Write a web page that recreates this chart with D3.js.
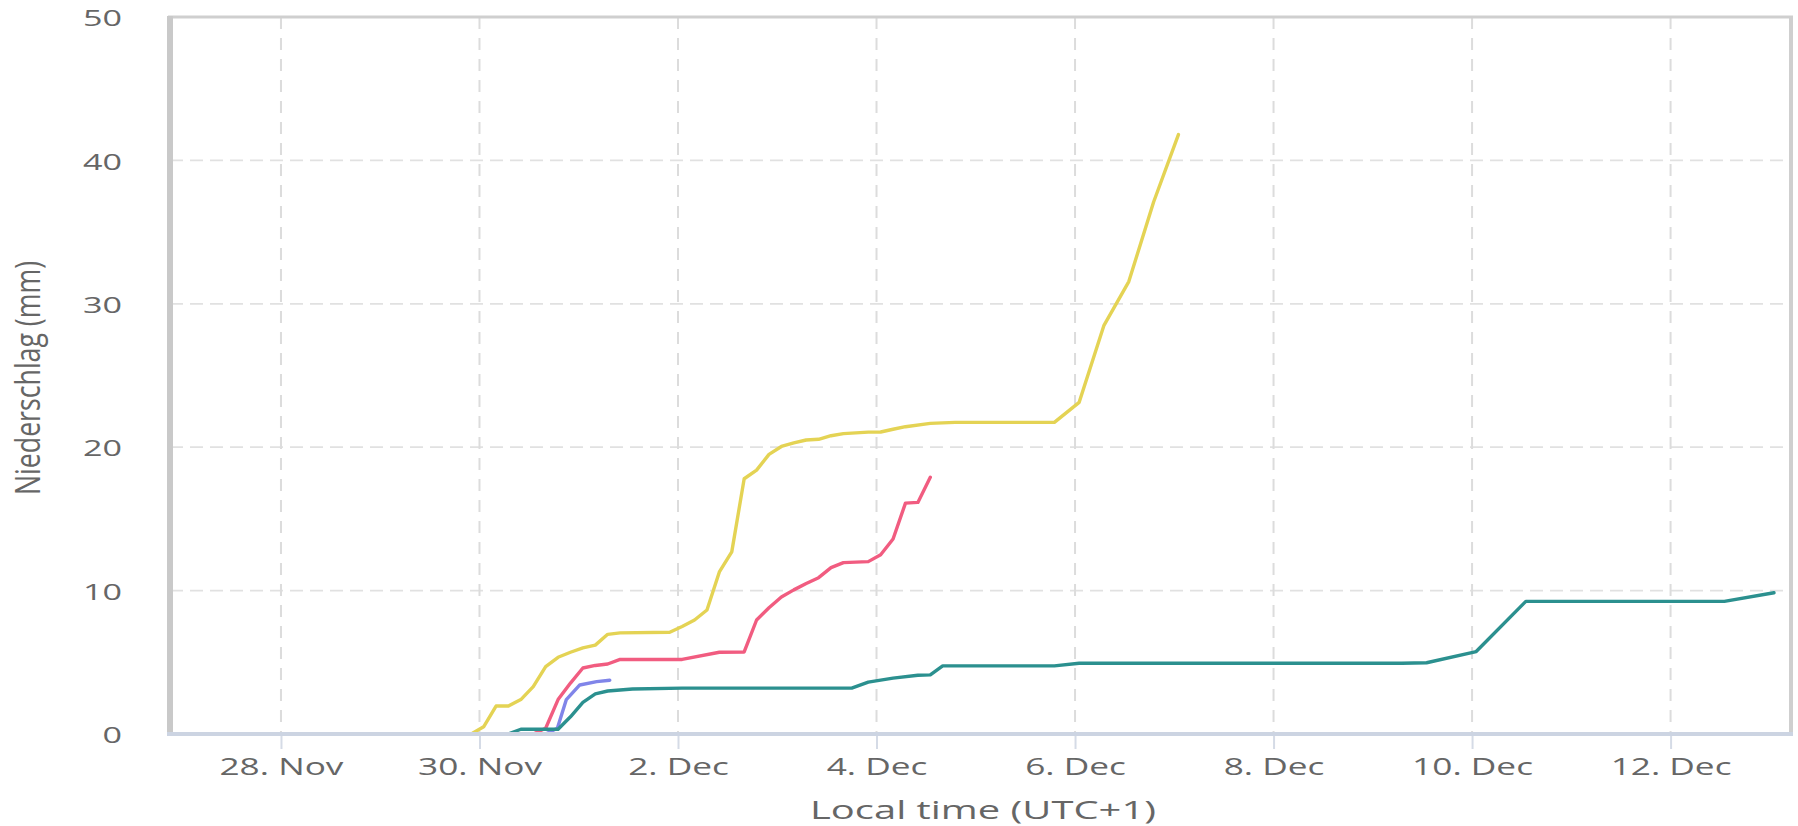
<!DOCTYPE html>
<html>
<head>
<meta charset="utf-8">
<script src="https://cdn.jsdelivr.net/npm/d3@7"></script>
<style>
  html, body { margin: 0; padding: 0; background: #ffffff; }
  svg { display: block; }
</style>
</head>
<body>
<svg id="chart" width="1798" height="826"></svg>
<script>
// ---------------- DATA ----------------
const xDomainTimes = ["2023-11-26T21:10", "2023-12-13T05:07"];
const yDomain = [0, 50];
const yTickValues = [0, 10, 20, 30, 40, 50];
const xTickDates = ["2023-11-28T00:00", "2023-11-30T00:00", "2023-12-02T00:00", "2023-12-04T00:00",
                    "2023-12-06T00:00", "2023-12-08T00:00", "2023-12-10T00:00", "2023-12-12T00:00"];
const yAxisTitle = "Niederschlag (mm)";
const xAxisTitle = "Local time (UTC+1)";

const seriesYellow = [
  ["2023-11-27T01:00", 0], ["2023-11-29T22:00", 0], ["2023-11-30T01:00", 0.5],
  ["2023-11-30T04:00", 1.95], ["2023-11-30T07:00", 1.95], ["2023-11-30T10:00", 2.4],
  ["2023-11-30T13:00", 3.3], ["2023-11-30T16:00", 4.7], ["2023-11-30T19:00", 5.35],
  ["2023-11-30T22:00", 5.7], ["2023-12-01T01:00", 6.0], ["2023-12-01T04:00", 6.2],
  ["2023-12-01T07:00", 6.95], ["2023-12-01T10:00", 7.05], ["2023-12-01T22:00", 7.1],
  ["2023-12-02T01:00", 7.5], ["2023-12-02T04:00", 7.95], ["2023-12-02T07:00", 8.65],
  ["2023-12-02T10:00", 11.3], ["2023-12-02T13:00", 12.7], ["2023-12-02T16:00", 17.8],
  ["2023-12-02T19:00", 18.4], ["2023-12-02T22:00", 19.5], ["2023-12-03T01:00", 20.05],
  ["2023-12-03T04:00", 20.3], ["2023-12-03T07:00", 20.5], ["2023-12-03T10:00", 20.55],
  ["2023-12-03T13:00", 20.8], ["2023-12-03T16:00", 20.95], ["2023-12-03T22:00", 21.05],
  ["2023-12-04T01:00", 21.06], ["2023-12-04T04:00", 21.25], ["2023-12-04T07:00", 21.43],
  ["2023-12-04T13:00", 21.66], ["2023-12-04T19:00", 21.73], ["2023-12-05T19:00", 21.73],
  ["2023-12-06T01:00", 23.13], ["2023-12-06T07:00", 28.5], ["2023-12-06T13:00", 31.55],
  ["2023-12-06T19:00", 37.1], ["2023-12-07T01:00", 41.8]
];
const seriesPink = [
  ["2023-11-30T13:00", 0], ["2023-11-30T16:00", 0.4], ["2023-11-30T19:00", 2.4],
  ["2023-11-30T22:00", 3.55], ["2023-12-01T01:00", 4.6], ["2023-12-01T04:00", 4.78],
  ["2023-12-01T07:00", 4.88], ["2023-12-01T10:00", 5.2], ["2023-12-02T01:00", 5.2],
  ["2023-12-02T10:00", 5.7], ["2023-12-02T16:00", 5.72], ["2023-12-02T19:00", 7.95],
  ["2023-12-02T22:00", 8.8], ["2023-12-03T01:00", 9.55], ["2023-12-03T04:00", 10.05],
  ["2023-12-03T07:00", 10.5], ["2023-12-03T10:00", 10.9], ["2023-12-03T13:00", 11.6],
  ["2023-12-03T16:00", 11.95], ["2023-12-03T22:00", 12.02], ["2023-12-04T01:00", 12.5],
  ["2023-12-04T04:00", 13.6], ["2023-12-04T07:00", 16.1], ["2023-12-04T10:00", 16.15],
  ["2023-12-04T13:00", 17.9]
];
const seriesBlue = [
  ["2023-11-30T16:00", 0], ["2023-11-30T18:50", 0.4], ["2023-11-30T21:00", 2.4],
  ["2023-12-01T00:15", 3.42], ["2023-12-01T04:20", 3.65], ["2023-12-01T07:30", 3.75]
];
const seriesTeal = [
  ["2023-11-30T07:00", 0], ["2023-11-30T10:00", 0.33], ["2023-11-30T19:00", 0.33],
  ["2023-11-30T22:00", 1.2], ["2023-12-01T01:00", 2.2], ["2023-12-01T04:00", 2.8],
  ["2023-12-01T07:00", 3.0], ["2023-12-01T13:00", 3.14], ["2023-12-02T01:00", 3.2],
  ["2023-12-03T18:00", 3.2], ["2023-12-03T22:00", 3.62], ["2023-12-04T04:00", 3.9],
  ["2023-12-04T10:00", 4.1], ["2023-12-04T13:00", 4.12], ["2023-12-04T16:00", 4.75],
  ["2023-12-05T19:00", 4.75], ["2023-12-06T01:00", 4.93], ["2023-12-09T07:00", 4.93],
  ["2023-12-09T13:00", 4.97], ["2023-12-10T01:00", 5.75], ["2023-12-10T13:00", 9.25],
  ["2023-12-12T13:00", 9.25], ["2023-12-13T01:00", 9.85]
];
const seriesList = [
  { name: "yellow", color: "#e4d354", data: seriesYellow },
  { name: "pink",   color: "#f15c80", data: seriesPink },
  { name: "blue",   color: "#8085e9", data: seriesBlue },
  { name: "teal",   color: "#2b908f", data: seriesTeal }
];

// ---------------- LAYOUT ----------------
const plot = { left: 170, right: 1791, top: 17, bottom: 734 };
const parse = d3.timeParse("%Y-%m-%dT%H:%M");
const svg = d3.select("#chart");

const x = d3.scaleTime().domain(xDomainTimes.map(parse)).range([plot.left, plot.right]);
const y = d3.scaleLinear().domain(yDomain).range([plot.bottom, plot.top]);

// horizontally stretch all texts of a selection by the factor that makes the reference node reach targetWidth
function stretch(sel, refNode, targetWidth) {
  const k = targetWidth / refNode.getComputedTextLength();
  sel.each(function () {
    const w = this.getComputedTextLength();
    d3.select(this).attr("textLength", w * k).attr("lengthAdjust", "spacingAndGlyphs");
  });
}

// plot background
svg.append("rect").attr("x", plot.left).attr("y", plot.top)
  .attr("width", plot.right - plot.left).attr("height", plot.bottom - plot.top).attr("fill", "#fff");

// horizontal grid
svg.append("g").selectAll("line").data(yTickValues).join("line")
  .attr("x1", plot.left).attr("x2", plot.right)
  .attr("y1", d => y(d)).attr("y2", d => y(d))
  .attr("stroke", "#e1e1e1").attr("stroke-width", 1.7).attr("stroke-dasharray", "13,7");

// vertical grid
const tickDates = xTickDates.map(parse);
svg.append("g").selectAll("line").data(tickDates).join("line")
  .attr("x1", d => x(d)).attr("x2", d => x(d))
  .attr("y1", plot.top).attr("y2", plot.bottom)
  .attr("stroke", "#dcdcdc").attr("stroke-width", 2).attr("stroke-dasharray", "12,9");

// series
svg.append("clipPath").attr("id", "clip").append("rect")
  .attr("x", plot.left).attr("y", plot.top - 5)
  .attr("width", plot.right - plot.left).attr("height", plot.bottom - plot.top + 5);
const line = d3.line().x(d => x(parse(d[0]))).y(d => y(d[1]));
svg.append("g").attr("clip-path", "url(#clip)").selectAll("path").data(seriesList).join("path")
  .attr("d", s => line(s.data))
  .attr("fill", "none").attr("stroke", s => s.color).attr("stroke-width", 3.4)
  .attr("stroke-linejoin", "round").attr("stroke-linecap", "round");

// x axis
const xAxis = svg.append("g").attr("transform", `translate(0,${plot.bottom})`)
  .call(d3.axisBottom(x).tickValues(tickDates).tickFormat(d3.timeFormat("%-d. %b")).tickSize(15).tickPadding(10));
xAxis.select(".domain").remove();
xAxis.selectAll(".tick line").attr("stroke", "#d5dbe6").attr("stroke-width", 2);
const xLabels = xAxis.selectAll(".tick text").attr("font-family", "'Open Sans', sans-serif").attr("font-size", 23)
  .attr("fill", "#666666").attr("dy", "0.71em");
stretch(xLabels, xLabels.nodes()[0], 124);

// y axis labels
const yAxis = svg.append("g").attr("transform", `translate(${plot.left},2)`)
  .call(d3.axisLeft(y).tickValues(yTickValues).tickSize(0).tickPadding(48));
yAxis.select(".domain").remove();
const yLabels = yAxis.selectAll(".tick text").attr("font-family", "'Open Sans', sans-serif").attr("font-size", 21)
  .attr("fill", "#666666");
stretch(yLabels, yLabels.filter(d => d === 50).node(), 39);

// borders
svg.append("line").attr("x1", plot.left - 2).attr("x2", plot.right + 2).attr("y1", plot.top).attr("y2", plot.top)
  .attr("stroke", "#cfcfcf").attr("stroke-width", 3);
svg.append("line").attr("x1", plot.right).attr("x2", plot.right).attr("y1", plot.top).attr("y2", plot.bottom)
  .attr("stroke", "#cfcfcf").attr("stroke-width", 4);
svg.append("line").attr("x1", plot.left).attr("x2", plot.left).attr("y1", plot.top - 1).attr("y2", plot.bottom + 2)
  .attr("stroke", "#c9c9c9").attr("stroke-width", 6);
svg.append("line").attr("x1", plot.left - 3).attr("x2", plot.right + 2).attr("y1", plot.bottom).attr("y2", plot.bottom)
  .attr("stroke", "#ccd4e2").attr("stroke-width", 4);

// axis titles
svg.append("text").attr("x", 983).attr("y", 819).attr("text-anchor", "middle")
  .attr("font-family", "'Open Sans', sans-serif").attr("font-size", 25).attr("fill", "#666666")
  .attr("textLength", 346).attr("lengthAdjust", "spacingAndGlyphs")
  .text(xAxisTitle);

svg.append("text").attr("transform", "translate(40,378) rotate(-90)").attr("text-anchor", "middle")
  .attr("font-family", "'Open Sans', sans-serif").attr("font-size", 34).attr("fill", "#666666")
  .attr("textLength", 234).attr("lengthAdjust", "spacingAndGlyphs")
  .text(yAxisTitle);
</script>
</body>
</html>
